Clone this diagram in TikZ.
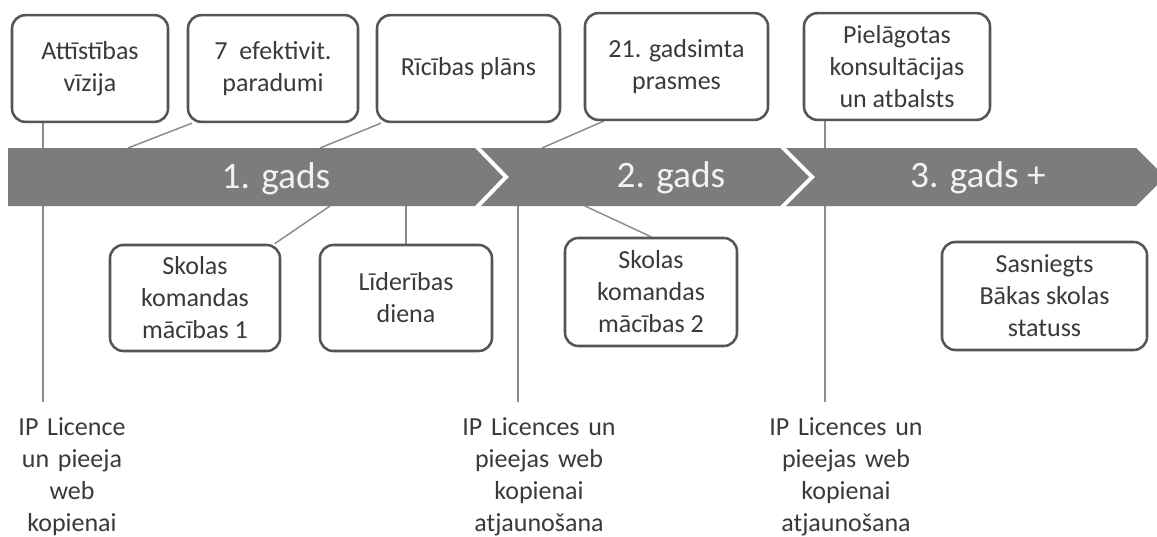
\documentclass[tikz,border=0pt]{standalone}
\usepackage{fontspec}
\setmainfont{Carlito}
\usepackage{tikz}
\usetikzlibrary{backgrounds}
\definecolor{bandgray}{RGB}{124,124,124}
\definecolor{boxline}{RGB}{85,85,85}
\definecolor{textgray}{RGB}{58,58,58}
\definecolor{linkgray}{RGB}{140,140,140}

\begin{document}
\begin{tikzpicture}[x=0.75pt,y=-0.75pt,
    every node/.style={text=textgray,font=\fontsize{19.5}{24}\selectfont},
    box/.style={draw=boxline,line width=1.9pt,rounded corners=10pt,fill=white,align=center,inner sep=0pt},
    link/.style={draw=linkgray,line width=1.1pt},
    year/.style={text=white!95!black,font=\fontsize{28}{32}\selectfont,anchor=base},
    lic/.style={align=center,text width=125pt,anchor=base,inner xsep=0pt,inner ysep=11pt}]
  \useasboundingbox (0,0) rectangle (1157,536);

  \node[box,minimum width=117pt,minimum height=80pt] (vizija) at (90,68.5) {Attīstības\\vīzija};
  \node[box,minimum width=127.5pt,minimum height=80pt] (paradumi) at (273,68.5) {7~ efektivit.\\paradumi};
  \node[box,minimum width=137.25pt,minimum height=80pt] (plans) at (468.5,68.5) {Rīcības plāns};
  \node[box,minimum width=137.25pt,minimum height=80pt] (prasmes) at (676.5,66.5) {21. gadsimta\\prasmes};
  \node[box,minimum width=139.5pt,minimum height=80pt] (atbalsts) at (897,66.5) {Pielāgotas\\konsultācijas\\un atbalsts};

  \node[box,minimum width=127.5pt,minimum height=79.5pt] (skola1) at (195,298) {Skolas\\komandas\\mācības 1};
  \node[box,minimum width=129pt,minimum height=79.5pt] (lideriba) at (406,298) {Līderības\\diena};
  \node[box,minimum width=129pt,minimum height=81pt] (skola2) at (651,292) {Skolas\\komandas\\mācības 2};
  \node[box,minimum width=153.75pt,minimum height=81pt] (statuss) at (1044.5,296) {Sasniegts\\Bākas skolas\\statuss};

  \node[lic] (lic1) at (72,435) {IP Licence\\un pieeja\\web\\kopienai};
  \node[lic] (lic2) at (539,435) {IP Licences un\\pieejas web\\kopienai\\atjaunošana};
  \node[lic] (lic3) at (846,435) {IP Licences un\\pieejas web\\kopienai\\atjaunošana};

  \coordinate (x1) at (43,0);
  \coordinate (x3) at (825,0);
  \coordinate (p2) at (128,148);
  \coordinate (p3) at (320,148);
  \coordinate (p4) at (542,148);
  \coordinate (q1) at (330,206);
  \coordinate (q2) at (407,206);
  \coordinate (q3) at (518,206);
  \coordinate (q4) at (585,206);

  \begin{scope}[on background layer]
    \fill[white] (0,0) rectangle (1157,536);
    \draw[link] (vizija.south -| x1) -- (lic1.north -| x1);
    \draw[link] (atbalsts.south -| x3) -- (lic3.north -| x3);
    \draw[link] (q3) -- (lic2.north -| q3);
    \draw[link] ([xshift=4pt]paradumi.south west) -- (p2);
    \draw[link] ([xshift=4pt]plans.south west) -- (p3);
    \draw[link] ([xshift=15pt]prasmes.south west) -- (p4);
    \draw[link] (q1) -- ([xshift=-5pt]skola1.north east);
    \draw[link] (lideriba.north |- q2) -- (lideriba.north);
    \draw[link] (q4) -- (skola2.north);
  \end{scope}

  \fill[bandgray] (8,148) -- (475,148) -- (503,177) -- (475,206) -- (8,206) -- cycle;
  \fill[bandgray] (481,148) -- (780,148) -- (809,177) -- (780,206) -- (481,206) -- (509,177) -- cycle;
  \fill[bandgray] (786,148) -- (1136,148) -- (1165,177) -- (1136,206) -- (786,206) -- (815,177) -- cycle;

  \node[year] (g1) at (276,188) {1. gads};
  \node[year] (g2) at (671,187) {2. gads};
  \node[year] (g3) at (978,187) {3. gads +};
\end{tikzpicture}
\end{document}
